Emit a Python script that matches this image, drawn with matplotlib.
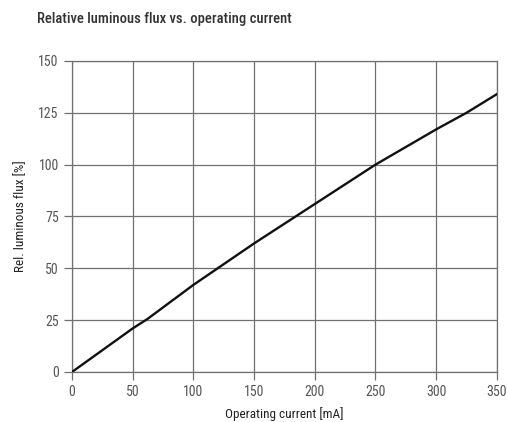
import matplotlib
matplotlib.use("Agg")
import matplotlib.pyplot as plt

current = [0, 25, 50, 62, 100, 150, 200, 250, 300, 325, 350]
flux = [0, 10.5, 21, 25.5, 42, 62, 81, 100, 117, 125, 134]
xticks = [0, 50, 100, 150, 200, 250, 300, 350]
yticks = [0, 25, 50, 75, 100, 125, 150]

plt.rcParams['font.family'] = ['Roboto Condensed', 'DejaVu Sans']

fig = plt.figure(figsize=(5.08, 4.22), dpi=100)
ax = fig.add_axes([0.1417, 0.1185, 0.8363, 0.737])
ax.plot(current, flux, color="#111111", lw=1.7, zorder=3)
ax.set_xlim(0, 350)
ax.set_ylim(0, 150)
ax.set_xticks(xticks)
ax.set_yticks(yticks)
ax.grid(True, color="#707070", lw=0.9)
for s in ax.spines.values():
    s.set_color("#707070")
    s.set_linewidth(0.9)
ax.tick_params(axis="both", colors="#707070", labelcolor="#555555", labelsize=10, length=6, width=0.9)
ax.set_xlabel("Operating current [mA]", fontsize=9.5, color="#222222", labelpad=6)
ax.set_ylabel("Rel. luminous flux [%]", fontsize=9.5, color="#222222", labelpad=8)
fig.text(0.073, 0.955, "Relative luminous flux vs. operating current", fontsize=10.5, fontweight="medium", color="#333333", va="center", ha="left")
fig.savefig("out.png", dpi=100)
